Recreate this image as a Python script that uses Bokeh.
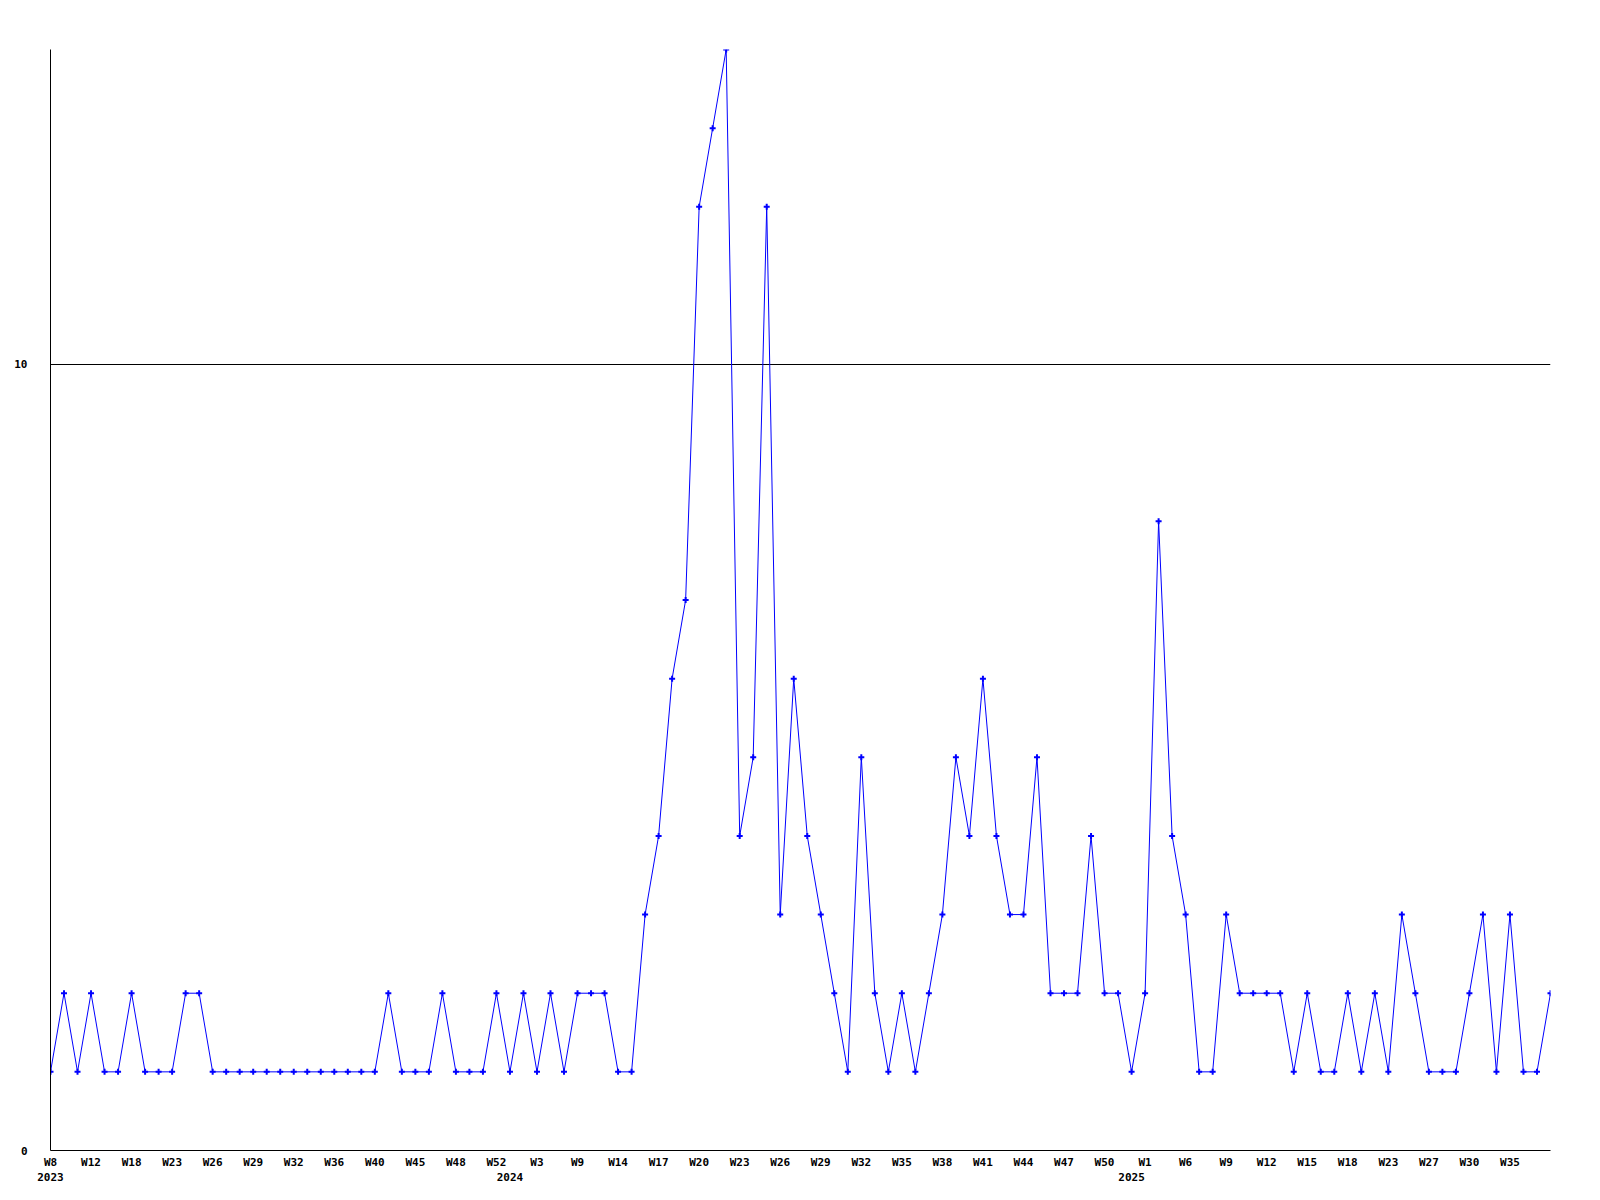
from bokeh.plotting import figure
from bokeh.models import Range1d, LinearAxis, FixedTicker, Grid, ColumnDataSource
from bokeh.embed import file_html
from bokeh.resources import INLINE

# Weekly counts (one point per week with data)
counts = [1, 2, 1, 2, 1, 1, 2, 1, 1, 1, 2, 2, 1,
          1, 1, 1, 1, 1, 1, 1, 1, 1, 1, 1, 1,
          2, 1, 1, 1, 2, 1, 1, 1, 2, 1, 2, 1, 2, 1, 2, 2, 2, 1, 1,
          3, 4, 6, 7, 12, 13, 14, 4, 5, 12, 3, 6, 4, 3, 2, 1,
          5, 2, 1, 2, 1, 2, 3, 5, 4, 6, 4, 3, 3, 5, 2, 2, 2, 4, 2, 2, 1, 2,
          8, 4, 3, 1, 1, 3, 2, 2, 2, 2, 1, 2, 1, 1, 2, 1, 2, 1, 3, 2, 1, 1, 1, 2, 3, 1, 3, 1, 1, 2]
index = list(range(len(counts)))

# Week labels (every third point)
week_tick_pos = list(range(0, 109, 3))
week_tick_labels = ["W8", "W12", "W18", "W23", "W26", "W29", "W32", "W36", "W40", "W45",
                    "W48", "W52", "W3", "W9", "W14", "W17", "W20", "W23", "W26", "W29",
                    "W32", "W35", "W38", "W41", "W44", "W47", "W50", "W1", "W6", "W9",
                    "W12", "W15", "W18", "W23", "W27", "W30", "W35"]
year_tick_pos = [0, 34, 80]
year_tick_labels = ["2023", "2024", "2025"]
y_ticks = [0, 10]

FONT = "DejaVu Sans Mono"

p = figure(width=1592, height=1192, output_backend="svg", toolbar_location=None,
           x_range=Range1d(0, len(counts) - 1), y_range=Range1d(0, 14),
           x_axis_type=None, y_axis_type=None,
           min_border_left=50, min_border_right=42, min_border_top=49, min_border_bottom=42)
p.outline_line_color = None
p.background_fill_color = "white"
p.border_fill_color = "white"

xaxis = LinearAxis(ticker=FixedTicker(ticks=week_tick_pos),
                   major_label_overrides={k: v for k, v in zip(week_tick_pos, week_tick_labels)},
                   major_tick_line_color=None, minor_tick_line_color=None,
                   axis_line_color="black", axis_line_width=1,
                   major_label_text_font=FONT, major_label_text_font_style="bold",
                   major_label_text_font_size="11px", major_label_text_color="black",
                   major_label_standoff=-1)
p.add_layout(xaxis, "below")

yearaxis = LinearAxis(ticker=FixedTicker(ticks=year_tick_pos),
                      major_label_overrides={k: v for k, v in zip(year_tick_pos, year_tick_labels)},
                      major_tick_line_color=None, minor_tick_line_color=None,
                      axis_line_color=None,
                      major_label_text_font=FONT, major_label_text_font_style="bold",
                      major_label_text_font_size="11px", major_label_text_color="black",
                      major_label_standoff=-5)
p.add_layout(yearaxis, "below")

yaxis = LinearAxis(ticker=FixedTicker(ticks=y_ticks),
                   major_tick_line_color=None, minor_tick_line_color=None,
                   axis_line_color="black", axis_line_width=1,
                   major_label_text_font=FONT, major_label_text_font_style="bold",
                   major_label_text_font_size="11px", major_label_text_color="black",
                   major_label_standoff=17)
p.add_layout(yaxis, "left")

p.add_layout(Grid(dimension=1, ticker=FixedTicker(ticks=[10]),
                  grid_line_color="black", grid_line_width=1))

src = ColumnDataSource(dict(x=index, y=counts))
p.line("x", "y", source=src, line_color="#0000ff", line_width=1)
p.scatter("x", "y", source=src, marker="cross", size=6,
          line_color="#0000ff", line_width=2)

open("out.html", "w").write(file_html(p, INLINE))
